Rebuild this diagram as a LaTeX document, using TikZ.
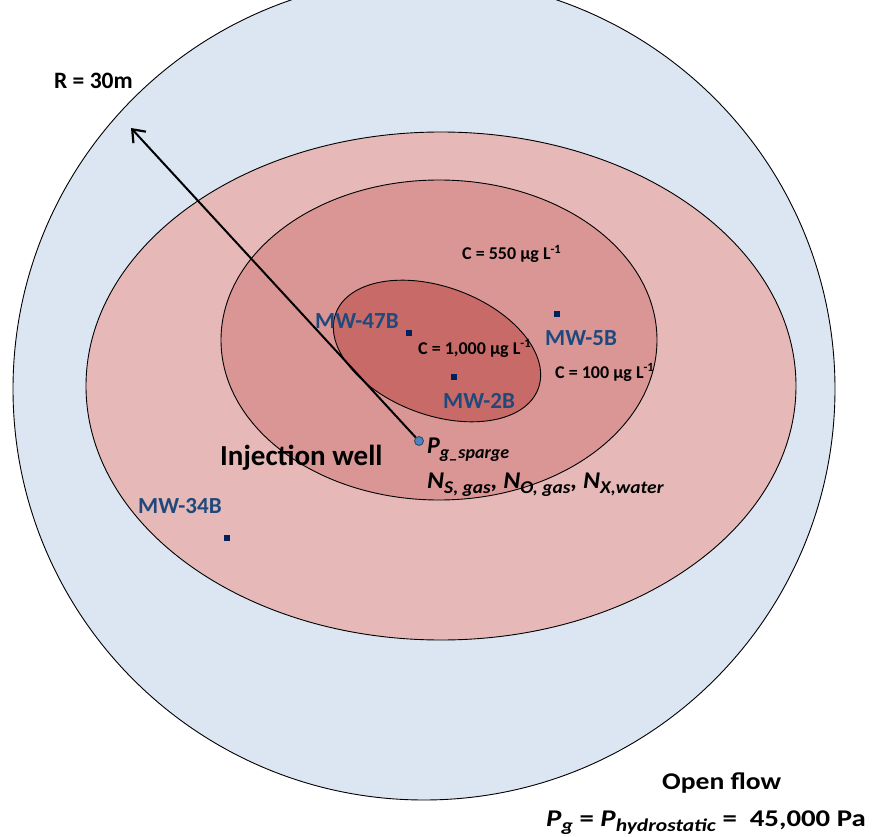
\documentclass[tikz,border=0pt]{standalone}
\usepackage{fontspec}
\setmainfont{Carlito}
\usetikzlibrary{arrows.meta}
\definecolor{zoneblue}{RGB}{220,230,242}
\definecolor{zonepinkA}{RGB}{230,185,184}
\definecolor{zonepinkB}{RGB}{217,150,148}
\definecolor{zonepinkC}{RGB}{200,106,103}
\definecolor{mwtext}{RGB}{31,73,125}
\definecolor{mwdot}{RGB}{0,32,96}
\definecolor{wellfill}{RGB}{79,129,189}
\definecolor{welldraw}{RGB}{40,70,110}
\newcommand{\fsz}[1]{\fontsize{#1}{#1}\selectfont}
\newcommand{\subtxt}[1]{{\fsz{18}\raisebox{-5pt}{#1}}}
\begin{document}
\begin{tikzpicture}[x=1pt,y=-1pt,
  zone/.style={draw=black, line width=0.9pt},
  txt/.style={inner sep=0pt, anchor=base west, font=\bfseries},
  mwlabel/.style={txt, text=mwtext, font=\bfseries\fsz{23}},
  conc/.style={txt, font=\bfseries\fsz{18}},
  mwsq/.style={fill=mwdot, inner sep=0pt, minimum size=6pt, draw=none, rectangle}]
\useasboundingbox (0,0) rectangle (881,837);
\begin{scope}
\clip (0,0) rectangle (881,837);
\draw[zone, fill=zoneblue] (424,389) circle [radius=411pt];
\end{scope}
\draw[zone, fill=zonepinkA] (441,386) ellipse [x radius=355pt, y radius=254pt];
\draw[zone, fill=zonepinkB] (439,340) ellipse [x radius=218pt, y radius=160pt];
\draw[zone, fill=zonepinkC, rotate around={-20.4:(437,351)}] (437,351) ellipse [x radius=108pt, y radius=64pt];
% monitoring wells
\node[mwsq] (sq47) at (409,333) {};
\node[mwsq] (sq5) at (557,314) {};
\node[mwsq] (sq2) at (454,377) {};
\node[mwsq] (sq34) at (227,538) {};
\node[mwlabel] (mw47) at (315,328) {MW-47B};
\node[mwlabel] (mw5) at (545,345) {MW-5B};
\node[mwlabel] (mw2) at (443,408) {MW-2B};
\node[mwlabel] (mw34) at (138,513) {MW-34B};
% concentrations
\node[conc] (c550) at (462,260) {C = 550 µg L\textsuperscript{-1}};
\node[conc] (c1000) at (418,354) {C = 1,000 µg L\textsuperscript{-1}};
\node[conc] (c100) at (555,378) {C = 100 µg L\textsuperscript{-1}};
% radius arrow
\coordinate (tip) at (131,128);
\node[circle, fill=wellfill, draw=welldraw, line width=0.8pt, minimum size=9pt, inner sep=0pt] (well) at (419,441) {};
\draw[line width=2pt, -{Straight Barb[length=11pt,width=17pt,line width=2.2pt]}] (well) -- (tip);
\node[txt, font=\bfseries\fsz{23.5}] (rlabel) at (54,89) {R = 30m};
% text
\node[txt, font=\bfseries\fsz{29}] (inj) at (220,465) {Injection well};
\node[txt, font=\bfseries\itshape\fsz{24}] (psparge) at (427,453) {P\subtxt{g\_sparge}};
\node[txt, font=\bfseries\itshape\fsz{24}] (nflux) at (427,488) {\scalebox{1.08}[1]{N\subtxt{S, gas},\ N\subtxt{O, gas},\ N\subtxt{X,water}}};
\node[txt, font=\bfseries\fsz{24}] (open) at (662,789) {\scalebox{1.15}[1]{Open flow}};
\node[txt, font=\bfseries\fsz{24}] (hydro) at (546,826) {\scalebox{1.2}[1]{\textit{P}\subtxt{\textit{g}} = \textit{P}\subtxt{\textit{hydrostatic}} =\ \ 45,000 Pa}};
\end{tikzpicture}
\end{document}
